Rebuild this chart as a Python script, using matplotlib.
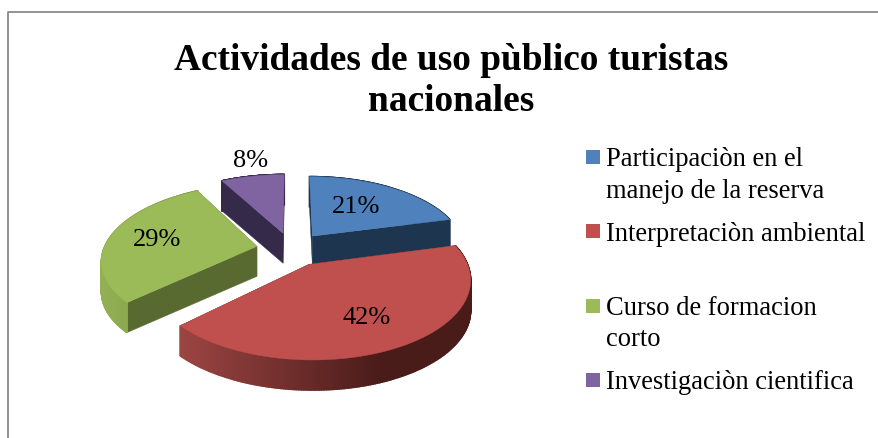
import numpy as np
import matplotlib
matplotlib.use('Agg')
import matplotlib.pyplot as plt
from matplotlib.colors import to_rgb

# datos
categorias = ['Participaciòn en el\nmanejo de la reserva', 'Interpretaciòn ambiental',
              'Curso de formacion\ncorto', 'Investigaciòn cientifica']
valores = [21, 42, 29, 8]
titulo = 'Actividades de uso pùblico turistas\nnacionales'

colores = ['#4F81BD', '#C0504D', '#9BBB59', '#8064A2']
corte = ['#1E354F', '#4D1F1D', '#586A30', '#352A4A']
# color del borde curvo: izquierda a derecha en pantalla
borde = [('#1E354F', '#1E354F'), ('#9C4543', '#491B19'),
         ('#93B153', '#7E9A47'), ('#352A4A', '#352A4A')]
pos_etiquetas = [(356, 207), (367, 318), (157, 240), (251, 161)]
pos_leyenda = [(151, 166, 198), (225, 241, None), (300, 315, 346), (374, 389, None)]

# proyeccion del pie (pixeles)
cx, cy = 291.5, 250
A, B = 153, 73.5
p = 0.17
e = 0.23
prof = 30


def proyectar(u, v):
    w = 1 / (1 + p * v)
    return cx + A * u * w, cy - B * v * w


fig = plt.figure(figsize=(8.79, 4.39), dpi=100)
ax = fig.add_axes([0, 0, 1, 1])
ax.set_xlim(0, 879)
ax.set_ylim(439, 0)
ax.axis('off')
plt.rcParams['font.family'] = 'Liberation Serif'

# marco
ax.plot([8.5, 8.5, 879], [439, 12.5, 12.5], color='#8A8A8A', lw=1.3)

total = sum(valores)
fin = np.cumsum(valores) / total * 2 * np.pi
ini = np.concatenate([[0], fin[:-1]])

# orden: de atras hacia adelante
for i in [3, 0, 2, 1]:
    medio = (ini[i] + fin[i]) / 2
    u0, v0 = e * np.sin(medio), e * np.cos(medio)
    t = np.linspace(ini[i], fin[i], 200)
    x, y = proyectar(u0 + np.sin(t), v0 + np.cos(t))
    xa, ya = proyectar(u0, v0)

    # caras de corte
    for k in [0, -1]:
        ax.fill([xa, x[k], x[k], xa], [ya, y[k], y[k] + prof, ya + prof],
                color=corte[i], lw=0.3)

    # borde curvo con degradado
    c1, c2 = np.array(to_rgb(borde[i][0])), np.array(to_rgb(borde[i][1]))
    for j in range(len(t) - 1):
        f = min((x[j] - x.min()) / (0.7 * (x.max() - x.min())), 1)
        ax.fill([x[j], x[j + 1], x[j + 1], x[j]],
                [y[j], y[j + 1], y[j + 1] + prof, y[j] + prof],
                color=c1 + (c2 - c1) * f, lw=1.2)

    # cara superior
    ax.fill(np.r_[xa, x], np.r_[ya, y], color=colores[i], lw=0.3)

for i, val in enumerate(valores):
    ax.text(pos_etiquetas[i][0], pos_etiquetas[i][1], f'{val}%', fontsize=19,
            ha='center', va='center', color='black')

# titulo
ax.text(451, 70, titulo.split('\n')[0], fontsize=26.9, fontweight='bold',
        ha='center', va='baseline')
ax.text(451, 111, titulo.split('\n')[1], fontsize=26.9, fontweight='bold',
        ha='center', va='baseline')

# leyenda
for i, cat in enumerate(categorias):
    y0, b1, b2 = pos_leyenda[i]
    ax.fill([586, 600, 600, 586], [y0, y0, y0 + 14, y0 + 14], color=colores[i], lw=0)
    lineas = cat.split('\n')
    ax.text(606, b1, lineas[0], fontsize=19.1, va='baseline')
    if b2 is not None:
        ax.text(606, b2, lineas[1], fontsize=19.1, va='baseline')

fig.savefig('out.png', dpi=100)
